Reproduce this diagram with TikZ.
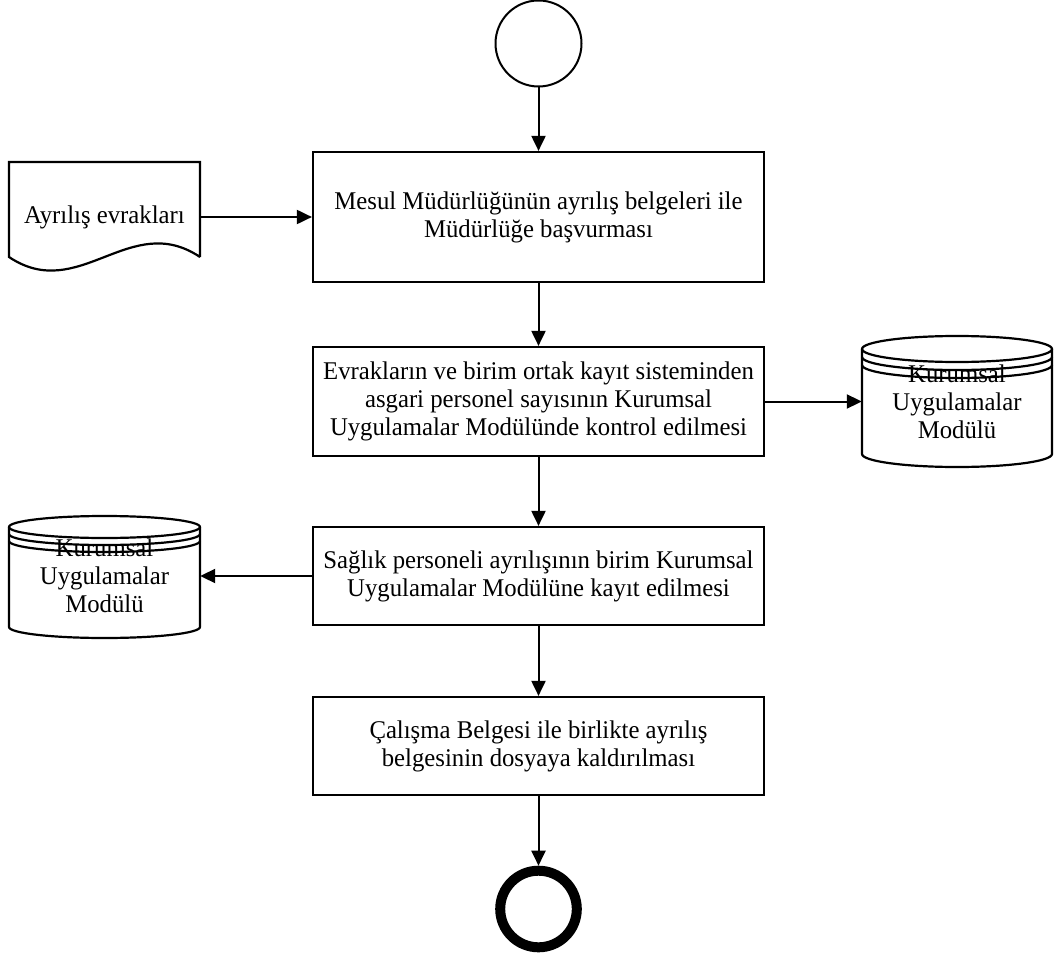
\documentclass[tikz,border=0pt]{standalone}
\usepackage{fontspec}
\setmainfont{Liberation Serif}[FakeStretch=0.97]
\usetikzlibrary{arrows.meta}

\tikzset{
  txt/.style={font=\fontsize{25.5}{28}\selectfont, align=center, inner sep=0pt},
  stepbox/.style={txt, draw, line width=2.2pt, minimum width=451pt},
  flow/.style={line width=2pt, -{Triangle[length=15pt,width=14pt]}},
  outline/.style={line width=2.2pt},
}

\begin{document}
\begin{tikzpicture}[x=1pt,y=-1pt]
  \useasboundingbox (0,0) rectangle (1057,960);

  % start and end events
  \node[draw, circle, line width=2pt, minimum size=86pt, inner sep=0pt] (start) at (538.5,43.5) {};
  \node[draw, circle, line width=10pt, minimum size=76.6pt, inner sep=0pt] (end) at (538.5,909) {};

  % process steps
  \node[stepbox, minimum height=130pt] (b1) at (538.5,217)
    {Mesul Müdürlüğünün ayrılış belgeleri ile\\Müdürlüğe başvurması};
  \node[stepbox, minimum height=109pt] (b2) at (538.5,401.5)
    {Evrakların ve birim ortak kayıt sisteminden\\asgari personel sayısının Kurumsal\\Uygulamalar Modülünde kontrol edilmesi};
  \node[stepbox, minimum height=98pt] (b3) at (538.5,576)
    {Sağlık personeli ayrılışının birim Kurumsal\\Uygulamalar Modülüne kayıt edilmesi};
  \node[stepbox, minimum height=98pt] (b4) at (538.5,746)
    {Çalışma Belgesi ile birlikte ayrılış\\belgesinin dosyaya kaldırılması};

  % input document
  \draw[outline] (200,257) -- (200,162) -- (9,162) -- (9,257)
    .. controls (79,304) and (130,210) .. (200,257);
  \node[txt, minimum width=191pt] (doc) at (104.5,217) {Ayrılış evrakları};

  % database on the right
  \draw[outline] (957,349) ellipse [x radius=95, y radius=13];
  \draw[outline] (862,357) arc [start angle=180, end angle=0, x radius=95, y radius=13];
  \draw[outline] (862,365) arc [start angle=180, end angle=0, x radius=95, y radius=13];
  \draw[outline] (862,349) -- (862,454) arc [start angle=180, end angle=0, x radius=95, y radius=13] -- (1052,349);
  \node[txt, minimum width=190pt] (dbR) at (957,401.5) {Kurumsal\\Uygulamalar\\Modülü};

  % database on the left
  \draw[outline] (104.5,527) ellipse [x radius=95.5, y radius=11];
  \draw[outline] (9,534) arc [start angle=180, end angle=0, x radius=95.5, y radius=11];
  \draw[outline] (9,541) arc [start angle=180, end angle=0, x radius=95.5, y radius=11];
  \draw[outline] (9,527) -- (9,627) arc [start angle=180, end angle=0, x radius=95.5, y radius=11] -- (200,527);
  \node[txt, minimum width=191pt] (dbL) at (104.5,576) {Kurumsal\\Uygulamalar\\Modülü};

  % connectors
  \draw[flow] (start) -- (b1);
  \draw[flow] (doc.east) -- (b1.west);
  \draw[flow] (b1) -- (b2);
  \draw[flow] (b2.east) -- (dbR.west);
  \draw[flow] (b2) -- (b3);
  \draw[flow] (b3.west) -- (dbL.east);
  \draw[flow] (b3) -- (b4);
  \draw[flow] (b4) -- (end);
\end{tikzpicture}
\end{document}
